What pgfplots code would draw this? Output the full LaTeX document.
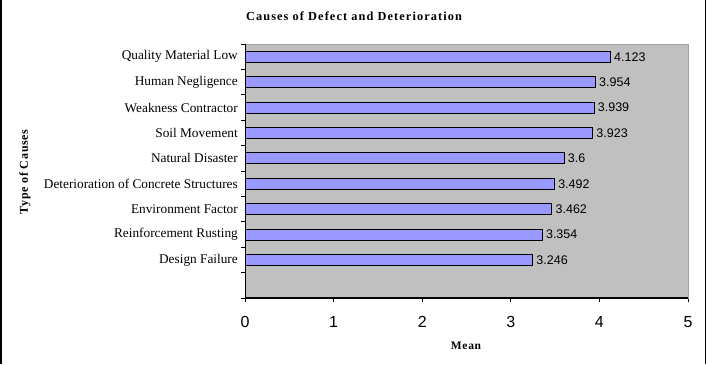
\documentclass[border=0pt]{standalone}
\usepackage{pgfplots}
\pgfplotsset{compat=1.18}
\usepackage{pgfplotstable}
\usepackage{fontspec}
\setmainfont{Liberation Serif}
\newfontfamily\arialfont{Liberation Sans}
\newfontfamily\spacedserif[LetterSpace=6]{Liberation Serif}
\newfontfamily\titleserif[LetterSpace=9]{Liberation Serif}
\definecolor{plotgray}{HTML}{C0C0C0}
\definecolor{barblue}{HTML}{9999FF}
\pgfplotstableread{
y v
1 3.246
2 3.354
3 3.462
4 3.492
5 3.6
6 3.923
7 3.939
8 3.954
9 4.123
}\datatable
\begin{document}
\begin{tikzpicture}[x=1pt,y=1pt]
\path[use as bounding box] (0,0) rectangle (708,364);
\fill[white] (0,0) rectangle (708,364);
\draw[black, line width=1.5pt] (0.75,0) -- (0.75,364);
\draw[black, line width=1.5pt] (705.5,0) -- (705.5,364);
\begin{axis}[
  at={(245pt,66pt)}, anchor=south west,
  width=443pt, height=254pt, scale only axis,
  xbar, bar width=11pt,
  xmin=0, xmax=5, ymin=-0.5, ymax=9.5,
  axis background/.style={fill=plotgray},
  axis line style={draw=gray!75, line width=0.6pt},
  tick align=outside,
  xtick pos=lower, ytick pos=left,
  major tick length=4pt,
  tick style={black, line width=0.8pt},
  xtick={0,1,2,3,4,5},
  ytick={-0.5,0.5,1.5,2.5,3.5,4.5,5.5,6.5,7.5,8.5,9.5},
  yticklabels={},
  extra y ticks={1,2,3,4,5,6,7,8,9},
  extra y tick labels={Design Failure,Reinforcement Rusting,Environment Factor\ ,Deterioration of Concrete Structures,Natural Disaster,Soil Movement,Weakness Contractor,Human Negligence,Quality Material Low},
  extra y tick style={major tick length=0pt, yticklabel style={font=\fontsize{13.3}{14}\selectfont, inner sep=0pt, anchor=east, xshift=-7pt}},
  xticklabel style={font=\arialfont\fontsize{16}{16}\selectfont, inner sep=0pt, anchor=north, yshift=-14pt},
  /pgf/number format/assume math mode=true,
  /pgf/number format/fixed,
  /pgf/number format/precision=3,
  nodes near coords,
  nodes near coords style={font=\arialfont\fontsize{12.5}{13}\selectfont, anchor=west, inner sep=0pt, xshift=3.5pt},
]
\addplot[fill=barblue, draw=black, line width=0.8pt] table[x=v, y=y] {\datatable};
\draw[black, line width=1.3pt] (rel axis cs:0,1) -- (rel axis cs:0,0) -- (rel axis cs:1,0);
\end{axis}
\node[font=\titleserif\bfseries\fontsize{12.3}{13}\selectfont] at (354,348) {Causes of Defect and Deterioration};
\node[font=\spacedserif\bfseries\fontsize{12}{12}\selectfont, rotate=90] at (25,192) {Type of Causes};
\node[font=\spacedserif\bfseries\fontsize{11.5}{12}\selectfont] at (466,18) {Mean};
\end{tikzpicture}
\end{document}
